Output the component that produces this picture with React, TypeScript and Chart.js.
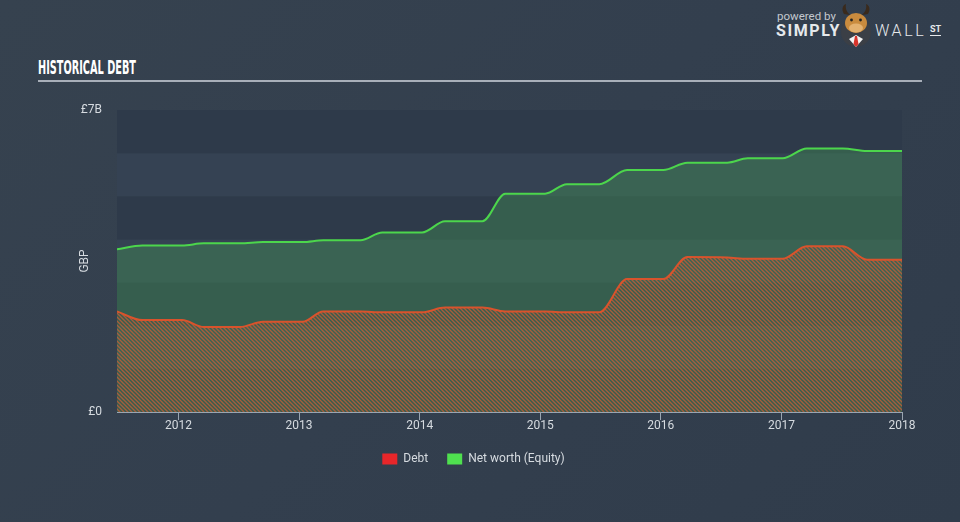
import React, { useEffect, useRef } from "react";
import { Chart, registerables } from "chart.js";

Chart.register(...registerables);

// ---- data (billions GBP, x in decimal years) ----
const yearTicks = [2012, 2013, 2014, 2015, 2016, 2017, 2018];
const valueTicks = [0, 7];
const dates = [
  2011.49, 2011.7, 2012.03, 2012.21, 2012.51, 2012.7, 2013.03, 2013.2, 2013.51,
  2013.69, 2014.02, 2014.21, 2014.52, 2014.71, 2015.04, 2015.22, 2015.49,
  2015.72, 2016.02, 2016.22, 2016.55, 2016.72, 2017.01, 2017.21, 2017.51,
  2017.71, 2018.0,
];
const debt = [
  2.33, 2.13, 2.13, 1.97, 1.97, 2.09, 2.09, 2.33, 2.33, 2.31, 2.31, 2.42, 2.42,
  2.33, 2.33, 2.31, 2.31, 3.08, 3.08, 3.59, 3.58, 3.55, 3.55, 3.84, 3.84, 3.53,
  3.53,
];
const equity = [
  3.77, 3.86, 3.86, 3.91, 3.91, 3.94, 3.94, 3.98, 3.98, 4.16, 4.16, 4.42, 4.42,
  5.06, 5.06, 5.28, 5.28, 5.61, 5.61, 5.78, 5.78, 5.88, 5.88, 6.11, 6.11, 6.05,
  6.05,
];
const seriesNames = ["Debt", "Net worth (Equity)"];
const legendColors = ["#e8262a", "#4fe04f"];

const FONT = "Roboto, 'Open Sans', sans-serif";

function makeHatch(): CanvasPattern | string {
  const c = document.createElement("canvas");
  c.width = 4;
  c.height = 4;
  const g = c.getContext("2d");
  if (!g) return "rgba(215,90,50,0.5)";
  g.strokeStyle = "rgba(214,92,52,0.7)";
  g.lineWidth = 1.4;
  g.beginPath();
  g.moveTo(-1, -1);
  g.lineTo(5, 5);
  g.moveTo(3, -1);
  g.lineTo(5, 1);
  g.moveTo(-1, 3);
  g.lineTo(1, 5);
  g.stroke();
  const p = g.createPattern(c, "repeat");
  return p || "rgba(215,90,50,0.5)";
}

const bandsPlugin = {
  id: "bands",
  beforeDraw(chart: any) {
    const { ctx, chartArea, scales } = chart;
    const y = scales.y;
    ctx.save();
    for (let i = 0; i < 7; i++) {
      const top = y.getPixelForValue(i + 1);
      const bot = y.getPixelForValue(i);
      ctx.fillStyle = i % 2 === 0 ? "#2e3a4a" : "#354253";
      ctx.fillRect(chartArea.left, top, chartArea.right - chartArea.left, bot - top);
    }
    ctx.restore();
  },
};

function BullIcon() {
  return (
    <svg width="34" height="44" viewBox="0 0 34 44" style={{ position: "absolute", left: 839, top: 4 }}>
      <circle cx="17" cy="28" r="15" fill="#3b3f46" />
      <path d="M5 10 C2 5 4 1 7 0 C6 5 8 8 11 11 Z" fill="#3a2a1c" />
      <path d="M29 10 C32 5 30 1 27 0 C28 5 26 8 23 11 Z" fill="#3a2a1c" />
      <ellipse cx="17" cy="19" rx="11" ry="10" fill="#c98b3e" />
      <ellipse cx="17" cy="24" rx="7" ry="4.5" fill="#e3b170" />
      <circle cx="12.5" cy="16" r="1.4" fill="#222" />
      <circle cx="21.5" cy="16" r="1.4" fill="#222" />
      <path d="M10 35 L17 31 L24 35 L17 43 Z" fill="#f2f2f2" />
      <path d="M16 32 L18 32 L19.5 40 L17 43 L14.5 40 Z" fill="#d9342b" />
    </svg>
  );
}

export default function App() {
  const canvasRef = useRef<HTMLCanvasElement | null>(null);
  const titleRef = useRef<HTMLSpanElement | null>(null);

  useEffect(() => {
    document.body.style.margin = "0";
    if (titleRef.current) {
      const w = titleRef.current.offsetWidth;
      if (w > 0) titleRef.current.style.transform = `scaleX(${98 / w})`;
    }
    const canvas = canvasRef.current;
    if (!canvas) return;
    const hatch = makeHatch();
    const chart = new Chart(canvas, {
      type: "line",
      data: {
        datasets: [
          {
            label: seriesNames[0],
            data: dates.map((d, i) => ({ x: d, y: debt[i] })),
            borderColor: "#d9532c",
            borderWidth: 2,
            backgroundColor: hatch as any,
            fill: "origin",
            pointRadius: 0,
            cubicInterpolationMode: "monotone",
          },
          {
            label: seriesNames[1],
            data: dates.map((d, i) => ({ x: d, y: equity[i] })),
            borderColor: "#4cd64c",
            borderWidth: 2,
            backgroundColor: "rgba(68,150,84,0.4)",
            fill: "origin",
            pointRadius: 0,
            cubicInterpolationMode: "monotone",
          },
        ],
      },
      options: {
        animation: false,
        responsive: false,
        devicePixelRatio: 1,
        events: [],
        layout: { padding: { left: 45, right: 58, top: 110, bottom: 47 } },
        scales: {
          x: {
            type: "linear",
            min: dates[0],
            max: 2018,
            afterBuildTicks: (s: any) => {
              s.ticks = yearTicks.map((v) => ({ value: v }));
            },
            afterFit: (s: any) => {
              s.height = 22;
            },
            grid: {
              display: true,
              drawOnChartArea: false,
              drawTicks: true,
              tickLength: 8,
              color: "#9aa5b1",
            },
            border: { display: true, color: "#9aa5b1", width: 1 },
            ticks: {
              color: "#d6dbe0",
              font: { family: FONT, size: 12 },
              padding: -1,
              maxRotation: 0,
              callback: (v: any) => String(v),
            },
          },
          y: {
            type: "linear",
            min: 0,
            max: 7,
            afterBuildTicks: (s: any) => {
              s.ticks = valueTicks.map((v) => ({ value: v }));
            },
            afterFit: (s: any) => {
              s.width = 72;
            },
            grid: { display: false, drawTicks: false },
            border: { display: false },
            ticks: {
              color: "#d6dbe0",
              font: { family: FONT, size: 12 },
              padding: 15,
              callback: (v: any) => (v === 0 ? "£0" : `£${v}B`),
            },
            title: {
              display: true,
              text: "GBP",
              color: "#d6dbe0",
              font: { family: FONT, size: 12 },
              padding: { top: 33, bottom: 0 },
            },
          },
        },
        plugins: {
          legend: {
            display: true,
            position: "bottom",
            labels: {
              boxWidth: 15,
              boxHeight: 11,
              padding: 19,
              color: "#d6dbe0",
              font: { family: FONT, size: 12 },
              generateLabels: () =>
                seriesNames.map((n, i) => ({
                  text: n,
                  fillStyle: legendColors[i],
                  strokeStyle: legendColors[i],
                  lineWidth: 0,
                  fontColor: "#d6dbe0",
                  hidden: false,
                  datasetIndex: i,
                })),
            },
          },
          tooltip: { enabled: false },
        },
      },
      plugins: [bandsPlugin],
    });
    return () => chart.destroy();
  }, []);

  return (
    <div
      style={{
        position: "fixed",
        left: 0,
        top: 0,
        width: 960,
        height: 522,
        overflow: "hidden",
        background: "linear-gradient(135deg, #36424f 0%, #333f4e 50%, #303c4b 100%)",
      }}
    >
      <span
        ref={titleRef}
        style={{
          position: "absolute",
          left: 38,
          top: 57,
          fontFamily: "'DejaVu Sans Condensed', 'Liberation Sans Narrow', 'DejaVu Sans', sans-serif",
          fontWeight: 700,
          fontSize: 20,
          lineHeight: "20px",
          color: "#ffffff",
          whiteSpace: "nowrap",
          transformOrigin: "0 0",
          display: "inline-block",
        }}
      >
        HISTORICAL DEBT
      </span>
      <div style={{ position: "absolute", left: 38, top: 80, width: 884, height: 2, background: "#a8afb9" }} />
      <span
        style={{
          position: "absolute",
          left: 777,
          top: 10,
          fontFamily: FONT,
          fontSize: 11.5,
          lineHeight: "12px",
          color: "#c3c8ce",
          whiteSpace: "nowrap",
        }}
      >
        powered by
      </span>
      <span
        style={{
          position: "absolute",
          left: 776,
          top: 23,
          fontFamily: FONT,
          fontWeight: 700,
          fontSize: 16,
          lineHeight: "16px",
          letterSpacing: 1.6,
          color: "#e6e9ec",
          whiteSpace: "nowrap",
        }}
      >
        SIMPLY
      </span>
      <BullIcon />
      <span
        style={{
          position: "absolute",
          left: 875,
          top: 23,
          fontFamily: FONT,
          fontWeight: 300,
          fontSize: 16,
          lineHeight: "16px",
          letterSpacing: 2.6,
          color: "#e6e9ec",
          whiteSpace: "nowrap",
        }}
      >
        WALL
      </span>
      <span
        style={{
          position: "absolute",
          left: 930,
          top: 25,
          fontFamily: FONT,
          fontWeight: 700,
          fontSize: 9,
          lineHeight: "9px",
          color: "#e6e9ec",
          borderBottom: "1.5px solid #e6e9ec",
          paddingBottom: 1,
          whiteSpace: "nowrap",
        }}
      >
        ST
      </span>
      <canvas ref={canvasRef} width={960} height={522} style={{ position: "absolute", left: 0, top: 0 }} />
    </div>
  );
}
